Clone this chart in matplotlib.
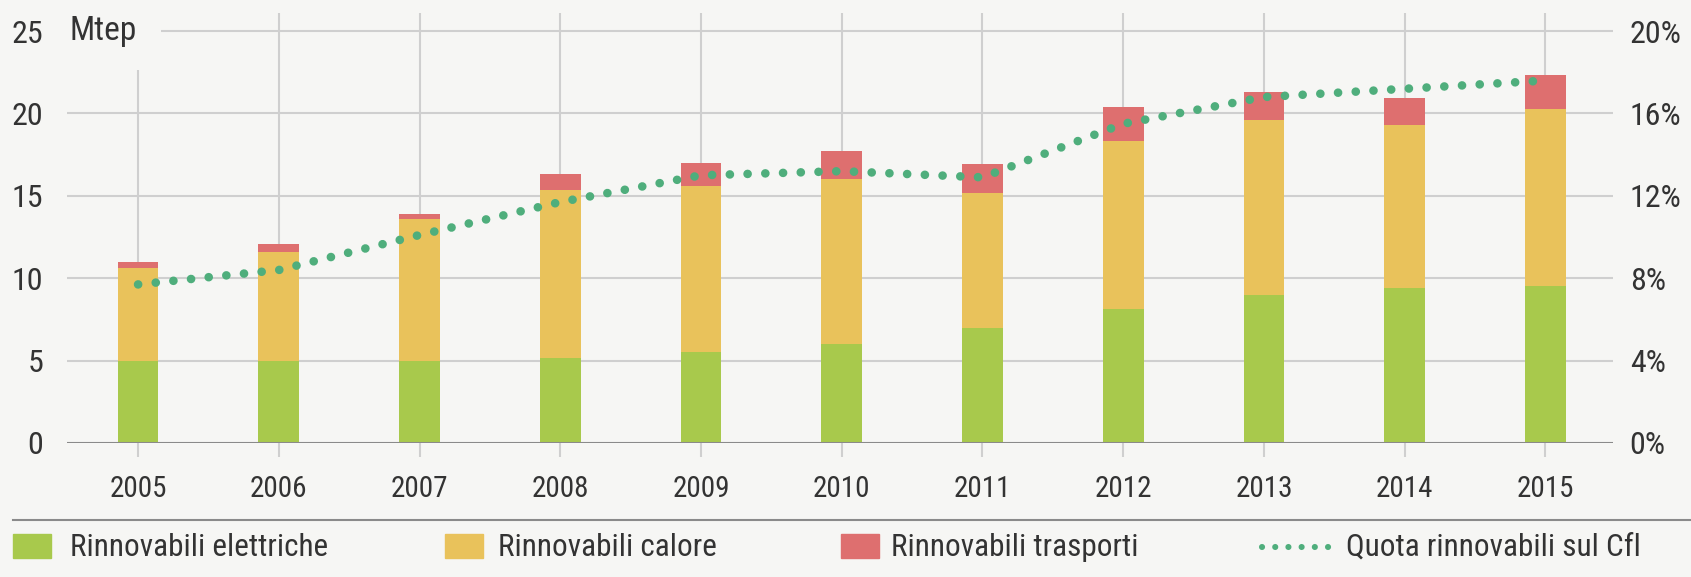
import matplotlib
matplotlib.use("Agg")
import matplotlib.pyplot as plt
from matplotlib.patches import Rectangle
from matplotlib.lines import Line2D
import numpy as np

plt.rcParams['font.family'] = ['Roboto Condensed', 'DejaVu Sans']

# Renewable energy in Italy, 2005-2015
years = ['2005', '2006', '2007', '2008', '2009', '2010', '2011', '2012', '2013', '2014', '2015']
rinn_elettriche = [4.95, 4.95, 4.95, 5.15, 5.5, 6.0, 7.0, 8.15, 9.0, 9.4, 9.55]
rinn_calore = [5.7, 6.65, 8.65, 10.2, 10.1, 10.05, 8.15, 10.2, 10.6, 9.9, 10.7]
rinn_trasporti = [0.35, 0.45, 0.3, 1.0, 1.4, 1.65, 1.8, 2.05, 1.7, 1.65, 2.1]
quota_cfl = [7.7, 8.4, 10.1, 11.7, 13.0, 13.2, 12.9, 15.5, 16.8, 17.2, 17.6]  # %

left_ticks = [0, 5, 10, 15, 20, 25]
right_ticks = [0, 4, 8, 12, 16, 20]

bg = '#f6f6f4'
c_green = '#a8c94c'
c_yellow = '#e9c25b'
c_red = '#de6f6f'
c_dots = '#4fae7c'
c_grid = '#cfcfcf'
c_axis = '#8a8a8a'
c_text = '#333333'

W, H = 1691, 577
fig = plt.figure(figsize=(W / 100, H / 100), dpi=100, facecolor=bg)
ax = fig.add_axes([67 / W, 1 - 443 / H, (1613 - 67) / W, (443 - 13) / H])
ax.set_facecolor(bg)

x = np.arange(len(years))
elet = np.array(rinn_elettriche)
cal = np.array(rinn_calore)
tra = np.array(rinn_trasporti)

bw = 0.29
ax.bar(x, elet, bw, color=c_green, zorder=3)
ax.bar(x, cal, bw, bottom=elet, color=c_yellow, zorder=3)
ax.bar(x, tra, bw, bottom=elet + cal, color=c_red, zorder=3)

ax.set_xlim(-0.505, 10.48)
ax.set_ylim(0, 26.1)
ax.set_yticks(left_ticks)
ax.set_xticks(x)
ax.set_xticklabels(years)
ax.grid(True, color=c_grid, linewidth=1.5, zorder=0)
ax.axhline(0, color=c_axis, linewidth=2.2, zorder=4)
for s in ax.spines.values():
    s.set_visible(False)
ax.tick_params(axis='y', length=0, pad=17, labelsize=23, labelcolor=c_text)
ax.tick_params(axis='x', length=10, width=1.5, color=c_grid, pad=13,
               labelsize=21, labelcolor=c_text, direction='out')

# Share of renewables in final consumption, right axis
ax2 = ax.twinx()
ax2.set_ylim(0, 26.1 * 0.8)
ax2.plot(x, quota_cfl, color=c_dots, linewidth=6.2, linestyle=(0, (0.01, 2.05)),
         dash_capstyle='round', zorder=5)
ax2.set_yticks(right_ticks)
ax2.set_yticklabels([f'{t}%' for t in right_ticks])
for s in ax2.spines.values():
    s.set_visible(False)
ax2.tick_params(axis='y', length=0, pad=12, labelsize=23, labelcolor=c_text)

fig.text(70 / W, 1 - 31 / H, 'Mtep', fontsize=24, color=c_text, va='center', ha='left',
         bbox=dict(boxstyle='square,pad=0.7', facecolor=bg, edgecolor='none'))

# separator above the legend
fig.add_artist(Line2D([13 / W, 1.0], [1 - 520 / H, 1 - 520 / H], color=c_axis, linewidth=1.5))

# legend row
leg_y = 1 - 547 / H
patch_h = 24 / H
entries = [(13, 70, c_green, 'Rinnovabili elettriche'),
           (445, 498, c_yellow, 'Rinnovabili calore'),
           (841, 891, c_red, 'Rinnovabili trasporti')]
for px, tx, col, lab in entries:
    fig.add_artist(Rectangle((px / W, 1 - 558 / H), 38 / W, patch_h, color=col, transform=fig.transFigure))
    fig.text(tx / W, leg_y, lab, fontsize=22.5, color=c_text, va='center', ha='left')
fig.add_artist(Line2D([1262 / W, 1330 / W], [1 - 547 / H, 1 - 547 / H], color=c_dots, linewidth=4.4,
                      linestyle=(0, (0.01, 2.15)), dash_capstyle='round'))
fig.text(1346 / W, leg_y, 'Quota rinnovabili sul Cfl', fontsize=22.5, color=c_text, va='center', ha='left')

fig.savefig('out.png', dpi=100, facecolor=bg)
